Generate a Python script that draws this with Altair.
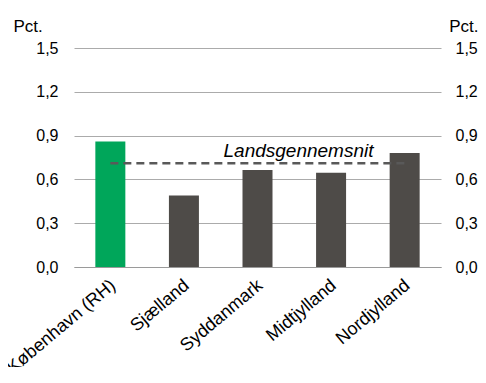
import altair as alt
import pandas as pd

regions = ["København (RH)", "Sjælland", "Syddanmark", "Midtjylland", "Nordjylland"]
values = [0.86, 0.49, 0.665, 0.645, 0.78]
bar_colors = ["#00A65A", "#4E4B48", "#4E4B48", "#4E4B48", "#4E4B48"]
average = 0.71
avg_label = "Landsgennemsnit"
y_ticks = [0.0, 0.3, 0.6, 0.9, 1.2, 1.5]

df = pd.DataFrame({"region": regions, "value": values, "color": bar_colors})
avg_df = pd.DataFrame({"start": [regions[0]], "end": [regions[-1]], "avg": [average],
                       "label": [avg_label], "mid": [regions[2]]})

FONT = "Liberation Sans"
label_expr = "replace(format(datum.value, '.1f'), '.', ',')"

xscale = alt.Scale(domain=regions, paddingInner=0.592, paddingOuter=0.29)
yscale = alt.Scale(domain=[0, 1.5])

left_axis = alt.Axis(values=y_ticks, labelExpr=label_expr, title="Pct.", titleAngle=0,
                     titleAlign="left", titleBaseline="alphabetic", titleX=-61, titleY=-17,
                     titleFont=FONT, titleFontSize=17, titleFontWeight="normal", titleColor="#000",
                     labelFont=FONT, labelFontSize=16, labelColor="#000", labelPadding=16,
                     ticks=False, domain=False, grid=True, gridColor="#ABABAB", gridWidth=1)

right_axis = alt.Axis(values=y_ticks, labelExpr=label_expr, title="Pct.", titleAngle=0, orient="right",
                      titleAlign="right", titleBaseline="alphabetic", titleX=37, titleY=-17,
                      titleFont=FONT, titleFontSize=17, titleFontWeight="normal", titleColor="#000",
                      labelFont=FONT, labelFontSize=16, labelColor="#000", labelPadding=14,
                      labelAlign="left", ticks=False, domain=False, grid=False)

x_axis = alt.Axis(title=None, labelAngle=-40, labelAlign="right", labelBaseline="middle",
                  labelFont=FONT, labelFontSize=18, labelColor="#000", labelPadding=16,
                  labelOffset=3, ticks=False, domain=True, domainColor="#9A9A9A", domainWidth=1,
                  grid=False)

bars = alt.Chart(df).mark_bar(size=30).encode(
    x=alt.X("region:N", scale=xscale, axis=x_axis, sort=regions),
    y=alt.Y("value:Q", scale=yscale, axis=left_axis),
    color=alt.Color("color:N", scale=None),
)

rule = alt.Chart(avg_df).mark_rule(strokeDash=[8, 5], strokeWidth=2.5, color="#595959").encode(
    x=alt.X("start:N", scale=xscale, sort=regions, bandPosition=0.5),
    x2=alt.X2("end:N", bandPosition=0.5),
    y=alt.Y("avg:Q", scale=yscale, axis=right_axis),
)

text = alt.Chart(avg_df).mark_text(font=FONT, fontSize=19, fontStyle="italic", color="#000",
                                    align="center", baseline="alphabetic", dx=41, dy=-6).encode(
    x=alt.X("mid:N", scale=xscale, sort=regions, bandPosition=0.5),
    y=alt.Y("avg:Q", scale=yscale, axis=None),
    text="label:N",
)

chart = alt.layer(bars, rule, text).resolve_axis(y="independent").properties(
    width=367, height=219,
    background="white",
    autosize=alt.AutoSizeParams(type="none"),
    padding={"left": 66, "top": 40, "right": 37, "bottom": 100},
).configure_view(strokeWidth=0, stroke="transparent")

chart.save("out.html", embed_options={"renderer": "svg", "actions": False})
